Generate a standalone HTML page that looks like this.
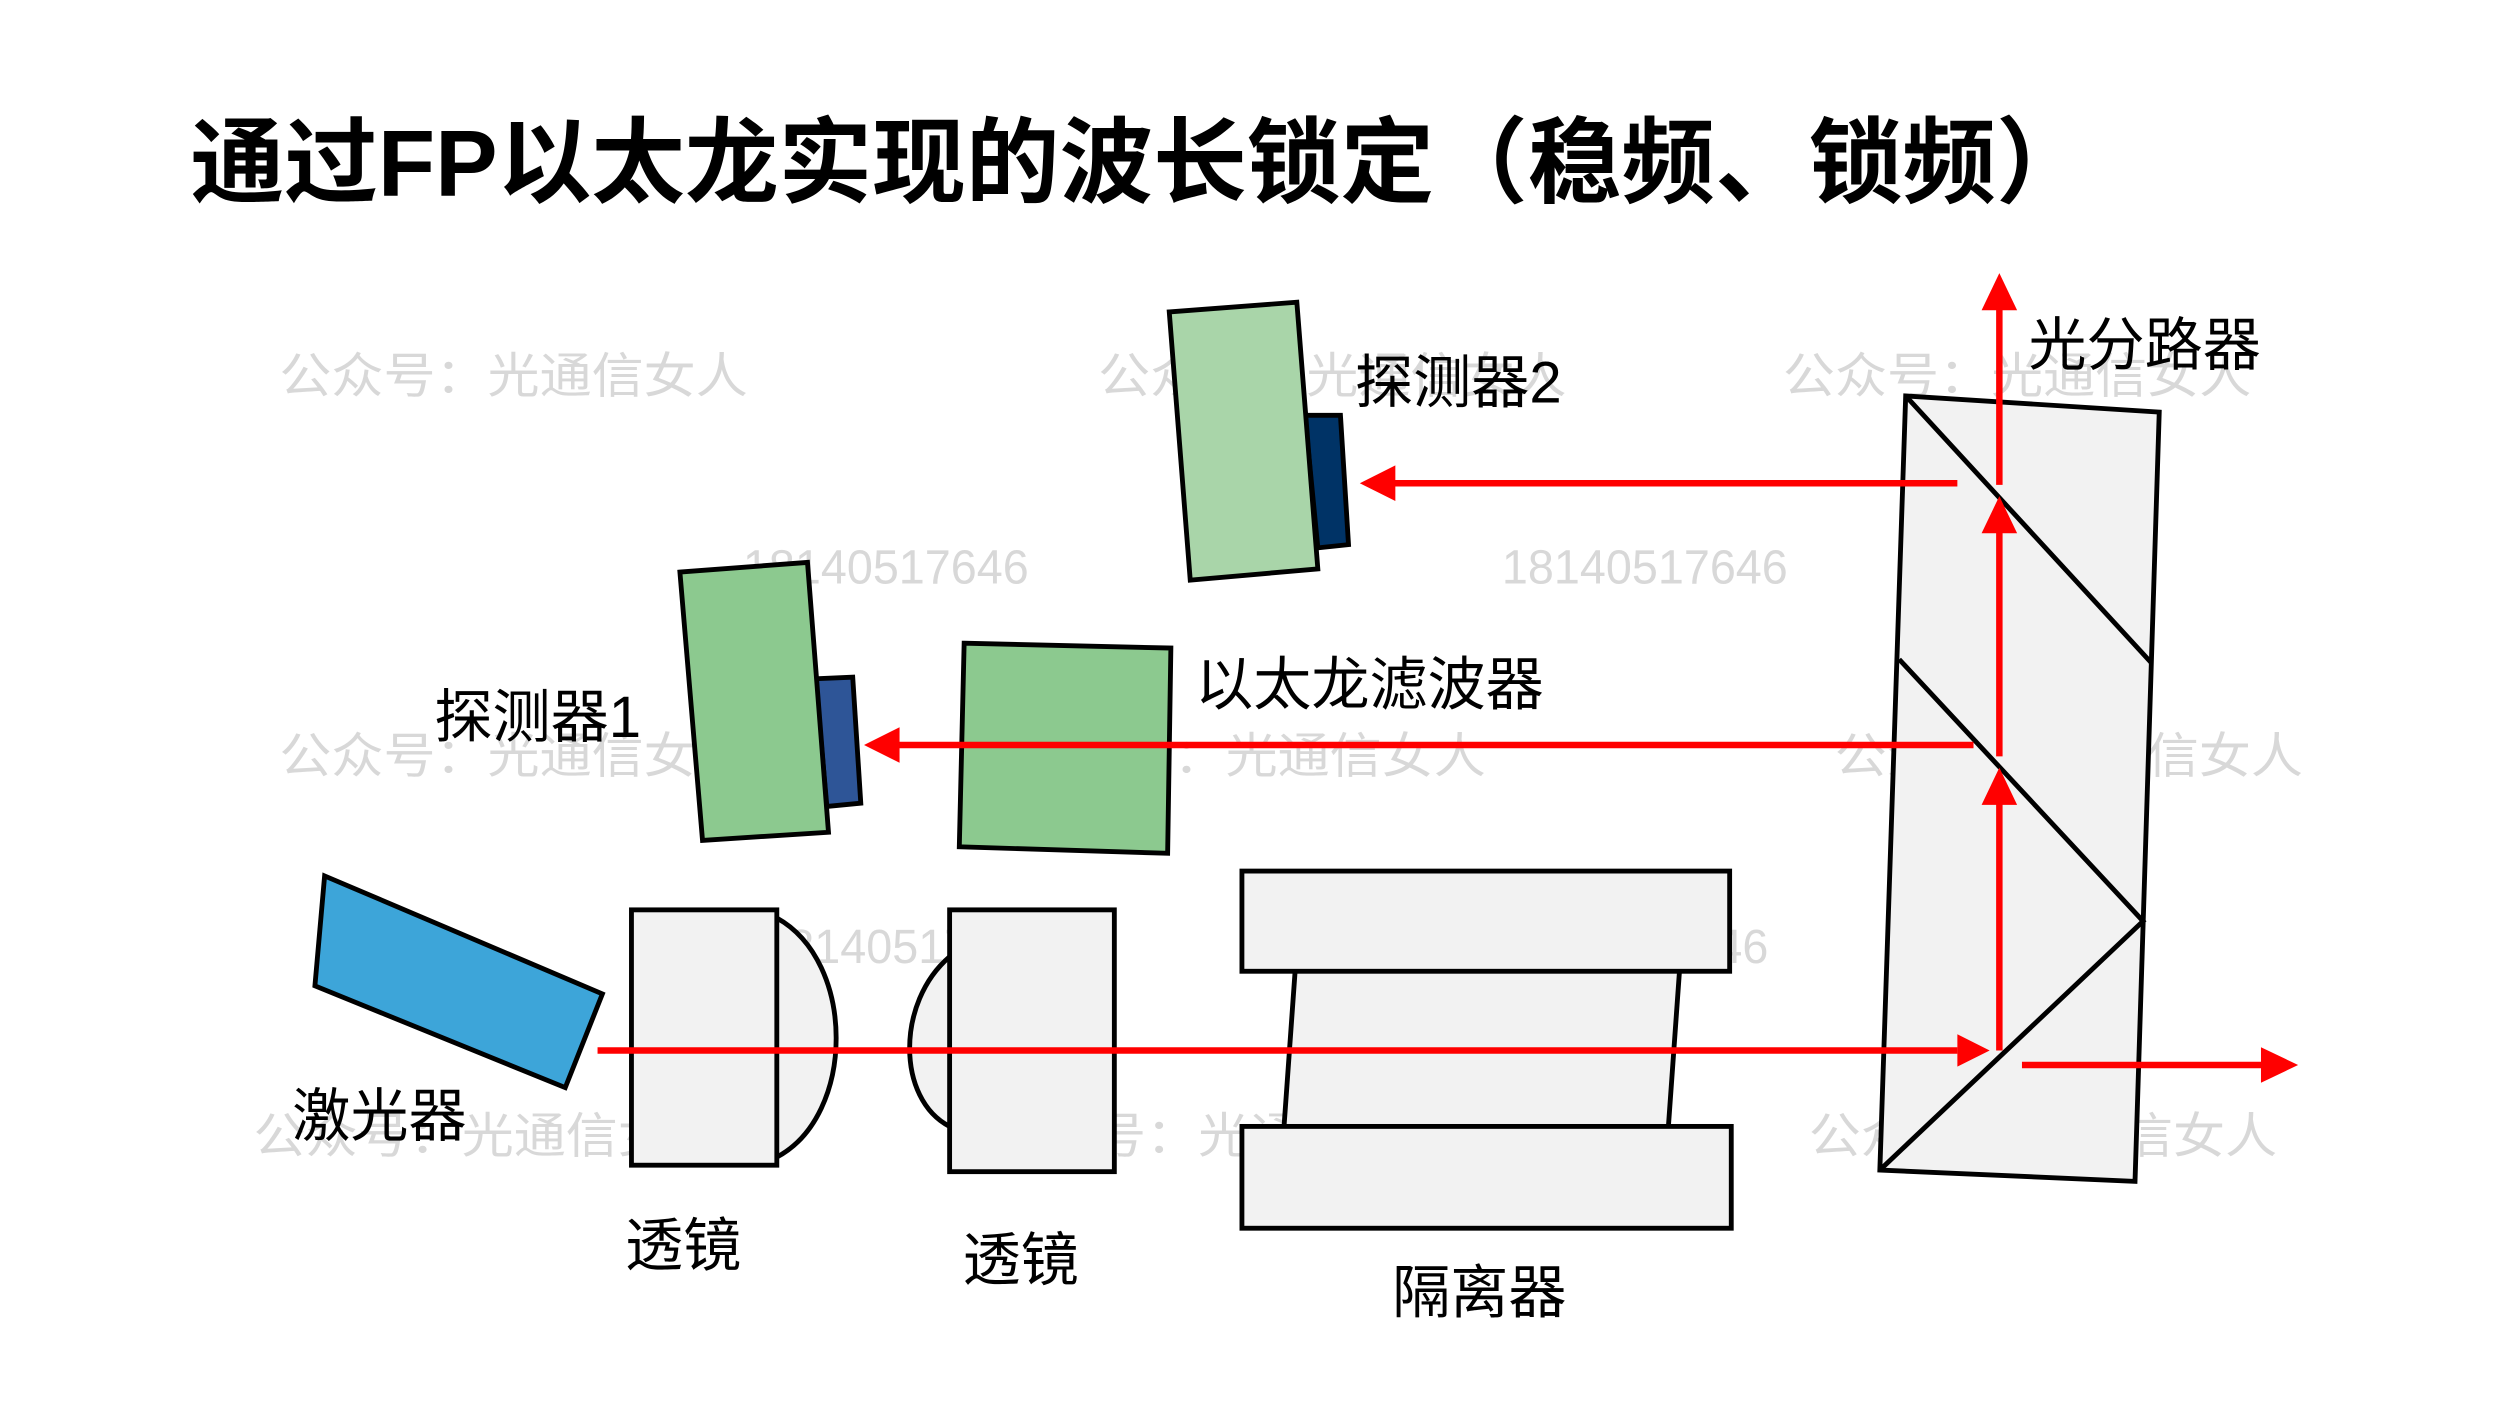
<!DOCTYPE html>
<html><head><meta charset="utf-8"><style>
html,body{margin:0;padding:0;background:#fff;}
svg{display:block;}
text{font-family:"Liberation Sans","Noto Sans CJK SC",sans-serif;}
</style></head><body>
<svg width="2500" height="1406" viewBox="0 0 1548 870" preserveAspectRatio="none" xmlns="http://www.w3.org/2000/svg">
<rect width="1548" height="870" fill="#fff"/>
<text x="118" y="121" font-size="58" font-weight="bold" fill="#000">通过FP以太龙实现的波长锁定（稳频、锁频）</text>

<!-- watermarks -->
<g fill="#d8d8d8" font-size="30" font-family="'Noto Serif CJK SC',serif">
<text x="173" y="243" textLength="290" lengthAdjust="spacingAndGlyphs">公众号：光通信女人</text>
<text x="680" y="243" textLength="290" lengthAdjust="spacingAndGlyphs">公众号：光通信女人</text>
<text x="1104" y="243" textLength="290" lengthAdjust="spacingAndGlyphs">公众号：光通信女人</text>
<text x="173" y="478" textLength="290" lengthAdjust="spacingAndGlyphs">公众号：光通信女人</text>
<text x="630" y="478" textLength="290" lengthAdjust="spacingAndGlyphs">公众号：光通信女人</text>
<text x="1136" y="478" textLength="290" lengthAdjust="spacingAndGlyphs">公众号：光通信女人</text>
<text x="157" y="713" textLength="290" lengthAdjust="spacingAndGlyphs">公众号：光通信女人</text>
<text x="613" y="713" textLength="290" lengthAdjust="spacingAndGlyphs">公众号：光通信女人</text>
<text x="1120" y="713" textLength="290" lengthAdjust="spacingAndGlyphs">公众号：光通信女人</text>
</g>
<g fill="#d8d8d8" font-size="30" font-family="'Liberation Serif',serif">
<text x="460" y="361" textLength="177" lengthAdjust="spacingAndGlyphs">18140517646</text>
<text x="930" y="361" textLength="177" lengthAdjust="spacingAndGlyphs">18140517646</text>
<text x="472" y="596" textLength="177" lengthAdjust="spacingAndGlyphs">18140517646</text>
<text x="918" y="596" textLength="177" lengthAdjust="spacingAndGlyphs">18140517646</text>
</g>

<g stroke="#000" stroke-width="3">
<polygon points="1180,245 1337,255 1322,731 1164,724" fill="#f2f2f2"/>
<polyline points="1180,245 1332,410" fill="none"/>
<polyline points="1176,408 1327,570 1164,724" fill="none"/>
<polygon points="808,257 830,257 835,337 816,339" fill="#003366"/>
<polygon points="724,193 803,187 816,352 737,359" fill="#a9d5a9"/>
<polygon points="505,420 528,419 533,497 512,499" fill="#2e5597"/>
<polygon points="421,354 500,348 513,515 435,520" fill="#8cc98f"/>
<polygon points="597,398 725,401 723,528 594,524" fill="#8cc98f"/>
<polygon points="201,542 373,615 350,673 195,610" fill="#3da5d9"/>
<path d="M481,568 C530,595 530,690 481,716" fill="#f2f2f2"/>
<rect x="391" y="563" width="90" height="158" fill="#f2f2f2"/>
<path d="M588,592 C555,620 555,680 588,697" fill="#f2f2f2"/>
<rect x="588" y="563" width="102" height="162" fill="#f2f2f2"/>
<polygon points="802,600 1040,600 1033,698 795,698" fill="#f2f2f2"/>
<rect x="769" y="539" width="302" height="62" fill="#f2f2f2"/>
<rect x="769" y="697" width="303" height="63" fill="#f2f2f2"/>
</g>

<g stroke="#ff0000" stroke-width="4" fill="none">
<line x1="370" y1="650" x2="1212" y2="650"/>
<polygon points="1212,640 1232,650 1212,660" fill="#ff0000" stroke="none"/>
<line x1="1252" y1="659" x2="1402" y2="659"/>
<polygon points="1400,648 1423,659 1400,670" fill="#ff0000" stroke="none"/>
<line x1="1238" y1="650" x2="1238" y2="495"/>
<polygon points="1227,498 1238,475 1249,498" fill="#ff0000" stroke="none"/>
<line x1="1238" y1="468" x2="1238" y2="325"/>
<polygon points="1227,330 1238,307 1249,330" fill="#ff0000" stroke="none"/>
<line x1="1238" y1="300" x2="1238" y2="190"/>
<polygon points="1227,192 1238,169 1249,192" fill="#ff0000" stroke="none"/>
<line x1="1222" y1="461" x2="555" y2="461"/>
<polygon points="557,450 535,461 557,472" fill="#ff0000" stroke="none"/>
<line x1="1212" y1="299" x2="862" y2="299"/>
<polygon points="864,288 842,299 864,310" fill="#ff0000" stroke="none"/>
</g>

<g font-size="36" fill="#000">
<text x="1256" y="226">光分路器</text>
<text x="839" y="249">探测器2</text>
<text x="740" y="436">以太龙滤波器</text>
<text x="269" y="456">探测器1</text>
<text x="181" y="703">激光器</text>
<text x="387" y="783">透镜</text>
<text x="596" y="792">透镜</text>
<text x="862" y="812">隔离器</text>
</g>
</svg>
</body></html>
